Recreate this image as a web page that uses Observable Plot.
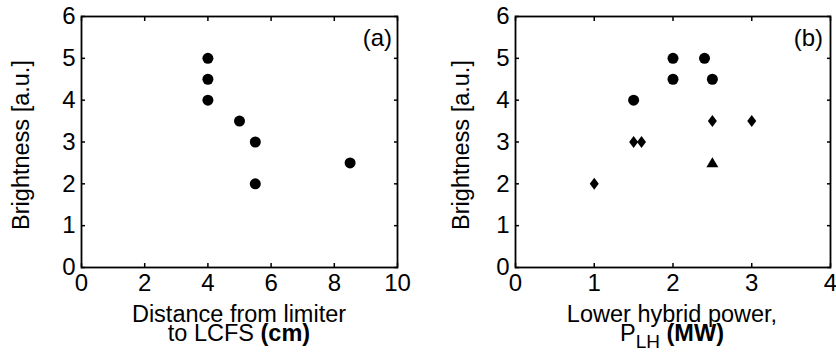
<!DOCTYPE html>
<html><head><meta charset="utf-8">
<script src="https://cdn.jsdelivr.net/npm/d3@7"></script>
<script src="https://cdn.jsdelivr.net/npm/@observablehq/plot@0.6"></script>
<style>
body{margin:0;background:#fff;}
#wrap{display:flex;width:836px;height:355px;overflow:hidden;}
svg{overflow:visible;}
</style></head><body><div id="wrap"></div>
<script>
// Panel (a): brightness vs distance from limiter to LCFS
const aX = [4, 4, 4, 5, 5.5, 5.5, 8.5];
const aY = [5, 4.5, 4, 3.5, 3, 2, 2.5];
// Panel (b): brightness vs lower hybrid power
const bCircleX = [1.5, 2, 2, 2.4, 2.5];
const bCircleY = [4, 5, 4.5, 5, 4.5];
const bDiamondX = [1, 1.5, 1.6, 2.5, 3];
const bDiamondY = [2, 3, 3, 3.5, 3.5];
const bTriangleX = [2.5];
const bTriangleY = [2.5];
const aXTicks = [0, 2, 4, 6, 8, 10];
const bXTicks = [0, 1, 2, 3, 4];
const yTicks = [0, 1, 2, 3, 4, 5, 6];

const FONT = '"Liberation Sans", Arial, Helvetica, sans-serif';
const diamond = {draw(c) { c.moveTo(0, -6); c.lineTo(4.5, 0); c.lineTo(0, 6); c.lineTo(-4.5, 0); c.closePath(); }};
const triangle = {draw(c) { c.moveTo(0, -5.7); c.lineTo(6, 4.3); c.lineTo(-6, 4.3); c.closePath(); }};
const fmt = d => String(d);

function pts(xs, ys) { return xs.map((x, i) => ({x, y: ys[i]})); }

function panel({ml, mr, xDomain, xTicks, dots}) {
  return Plot.plot({
    width: 418, height: 355,
    marginLeft: ml, marginRight: mr, marginTop: 16, marginBottom: 88,
    style: {fontFamily: FONT, background: "white", color: "black", overflow: "visible"},
    x: {domain: xDomain},
    y: {domain: [0, 6]},
    marks: [
      Plot.axisX({ticks: xTicks, anchor: "bottom", tickSize: 0, tickPadding: 6, fontSize: 24, tickFormat: fmt, label: null}),
      Plot.axisX({ticks: xTicks, anchor: "bottom", tickSize: -4, strokeWidth: 1.5, tickFormat: () => "", label: null}),
      Plot.axisX({ticks: xTicks, anchor: "top", tickSize: -4, strokeWidth: 1.5, tickFormat: () => "", label: null}),
      Plot.axisY({ticks: yTicks, anchor: "left", tickSize: 0, tickPadding: 6, fontSize: 24, tickFormat: fmt, label: null}),
      Plot.axisY({ticks: yTicks, anchor: "left", tickSize: -4, strokeWidth: 1.5, tickFormat: () => "", label: null}),
      Plot.axisY({ticks: yTicks, anchor: "right", tickSize: -4, strokeWidth: 1.5, tickFormat: () => "", label: null}),
      Plot.frame({stroke: "black", strokeWidth: 1.8}),
      ...dots
    ]
  });
}

const svgA = panel({
  ml: 81, mr: 21, xDomain: [0, 10], xTicks: aXTicks,
  dots: [Plot.dot(pts(aX, aY), {x: "x", y: "y", r: 5.5, fill: "black", symbol: "circle"})]
});
const svgB = panel({
  ml: 97, mr: 6, xDomain: [0, 4], xTicks: bXTicks,
  dots: [
    Plot.dot(pts(bCircleX, bCircleY), {x: "x", y: "y", r: 5.5, fill: "black", symbol: "circle"}),
    Plot.dot(pts(bDiamondX, bDiamondY), {x: "x", y: "y", fill: "black", symbol: diamond}),
    Plot.dot(pts(bTriangleX, bTriangleY), {x: "x", y: "y", fill: "black", symbol: triangle})
  ]
});

function addLabels(svg, {cx, ylx, tag, tagX, line1, line2}) {
  const s = d3.select(svg);
  const txt = (fs) => s.append("text").attr("font-family", FONT).attr("font-size", fs).attr("fill", "black");
  txt(23.5).attr("transform", `translate(${ylx},145) rotate(-90)`).attr("text-anchor", "middle").text("Brightness [a.u.]");
  txt(24).attr("x", tagX).attr("y", 46).attr("text-anchor", "end").text(tag);
  txt(23.5).attr("x", cx).attr("y", 322).attr("text-anchor", "middle").text(line1);
  const t = txt(23.5).attr("x", cx).attr("y", 341).attr("text-anchor", "middle");
  line2(t);
}

addLabels(svgA, {cx: 239, ylx: 29, tag: "(a)", tagX: 392, line1: "Distance from limiter",
  line2: t => { t.append("tspan").text("to LCFS "); t.append("tspan").attr("font-weight", "bold").text("(cm)"); }});
addLabels(svgB, {cx: 254, ylx: 51, tag: "(b)", tagX: 405, line1: "Lower hybrid power,",
  line2: t => {
    t.append("tspan").text("P");
    t.append("tspan").attr("font-size", 19).attr("dy", 7).text("LH");
    t.append("tspan").attr("dy", -7).text(" ");
    t.append("tspan").attr("font-weight", "bold").text("(MW)");
  }});

document.getElementById("wrap").append(svgA, svgB);
</script>
</body></html>
